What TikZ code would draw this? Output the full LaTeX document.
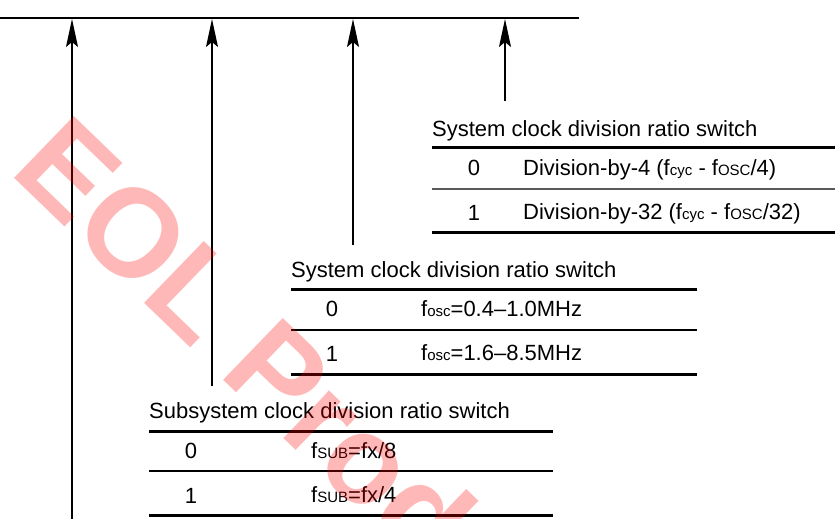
\documentclass[tikz,border=0pt]{standalone}
\usepackage{fontspec}
\setmainfont{Liberation Sans}
\usetikzlibrary{arrows.meta}
\newcommand\smtxt[1]{{\fontsize{15}{15}\selectfont #1}}
\begin{document}
\begin{tikzpicture}[x=1pt,y=-1pt,
  txt/.style={anchor=base west, inner sep=0pt, font=\fontsize{22}{22}\selectfont},
  dig/.style={anchor=base, inner sep=0pt, font=\fontsize{22}{22}\selectfont},
  thickrule/.style={line width=3pt},
  thinrule/.style={line width=1.5pt},
  lead/.style={line width=1.2pt, -{Stealth[length=28pt,width=12pt,inset=5pt]}},
  wmark/.style={anchor=base west, inner sep=0pt, rotate=-44, text=red, text opacity=0.28,
     font=\fontsize{125}{125}\selectfont\bfseries}
]
\useasboundingbox (0,0) rectangle (835,519);
\clip (0,0) rectangle (835,519);

% top bus line
\coordinate (L0) at (0,18);
\coordinate (L1) at (579,18);
\draw[line width=2pt] (L0) -- (L1);

% arrows
\coordinate (t1) at (72,19);  \coordinate (b1) at (72,520);
\coordinate (t2) at (212,19); \coordinate (b2) at (212,386);
\coordinate (t3) at (353,19); \coordinate (b3) at (353,245);
\coordinate (t4) at (505,19); \coordinate (b4) at (505,101);
\draw[lead] (b1) -- (t1);
\draw[lead] (b2) -- (t2);
\draw[lead] (b3) -- (t3);
\draw[lead] (b4) -- (t4);

% table 1
\node[txt] (h1) at (432,136) {System clock division ratio switch};
\coordinate (a1) at (432,147); \coordinate (a1r) at (836,147);
\draw[thickrule] (a1) -- (a1r);
\node[dig] (d10) at (474,175) {0};
\node[txt] (v10) at (523,175) {Division-by-4 (f\smtxt{cyc} - f\smtxt{OSC}/4)};
\coordinate (m1) at (432,189); \coordinate (m1r) at (836,189);
\draw[thinrule, black!65] (m1) -- (m1r);
\node[dig] (d11) at (474,220) {1};
\node[txt] (v11) at (523,219) {Division-by-32 (f\smtxt{cyc} - f\smtxt{OSC}/32)};
\coordinate (e1) at (432,232); \coordinate (e1r) at (836,232);
\draw[thickrule] (e1) -- (e1r);

% table 2
\node[txt] (h2) at (291,277) {System clock division ratio switch};
\coordinate (a2) at (291,289); \coordinate (a2r) at (697,289);
\draw[thickrule] (a2) -- (a2r);
\node[dig] (d20) at (332,316) {0};
\node[txt] (v20) at (421,316) {f\smtxt{osc}=0.4--1.0MHz};
\coordinate (m2) at (291,330); \coordinate (m2r) at (697,330);
\draw[thinrule] (m2) -- (m2r);
\node[dig] (d21) at (332,361) {1};
\node[txt] (v21) at (421,360) {f\smtxt{osc}=1.6--8.5MHz};
\coordinate (e2) at (291,374); \coordinate (e2r) at (697,374);
\draw[thickrule] (e2) -- (e2r);

% table 3
\node[txt] (h3) at (149,418) {Subsystem clock division ratio switch};
\coordinate (a3) at (149,431); \coordinate (a3r) at (553,431);
\draw[thickrule] (a3) -- (a3r);
\node[dig] (d30) at (191,458) {0};
\node[txt] (v30) at (311,458) {f\smtxt{SUB}=fx/8};
\coordinate (m3) at (149,471); \coordinate (m3r) at (553,471);
\draw[thinrule] (m3) -- (m3r);
\node[dig] (d31) at (191,503) {1};
\node[txt] (v31) at (311,502) {f\smtxt{SUB}=fx/4};
\coordinate (e3) at (149,515); \coordinate (e3r) at (553,515);
\draw[thickrule] (e3) -- (e3r);

% watermark
\node[wmark] (wm) at (8,172) {EOL Products};
\end{tikzpicture}
\end{document}
